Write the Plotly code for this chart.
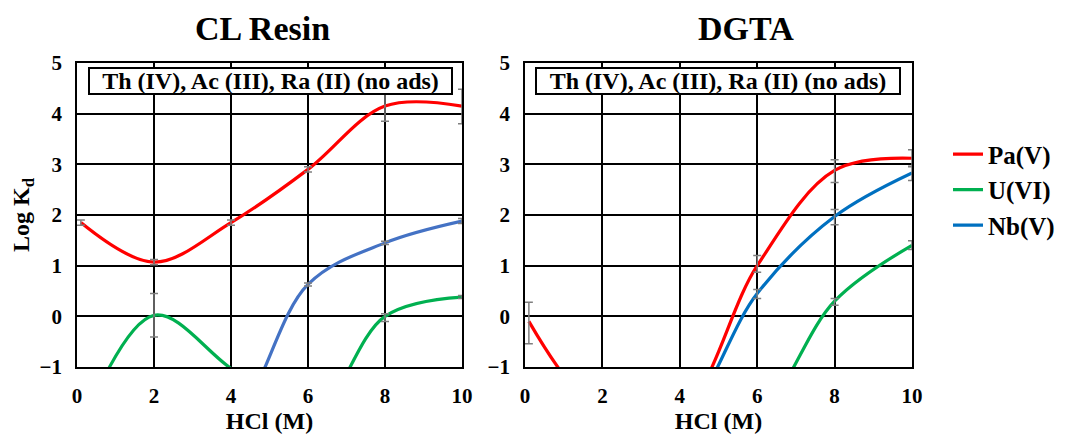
import plotly.graph_objects as go

# ---------------- data ----------------
hcl = [0.1, 2, 4, 6, 8, 10]

# CL Resin (log Kd); values below -1 are off-scale (not visible)
cl_pa = [1.85, 1.07, 1.85, 2.90, 4.15, 4.15]
cl_pa_up = [0.05, 0.05, 0.05, 0.05, 0.25, 0.33]
cl_pa_dn = [0.05, 0.05, 0.05, 0.05, 0.30, 0.35]
cl_u = [-2.2, 0.02, -1.03, -2.1, 0.0, 0.38]
cl_u_up = [0, 0.43, 0, 0, 0.05, 0.03]
cl_u_dn = [0, 0.43, 0, 0, 0.10, 0.03]
cl_nb = [-2.5, -2.5, -2.1, 0.63, 1.45, 1.88]
cl_nb_up = [0, 0, 0, 0.03, 0.03, 0.05]
cl_nb_dn = [0, 0, 0, 0.03, 0.03, 0.05]

# DGTA
dg_pa = [-0.10, -1.9, -1.9, 1.00, 2.88, 3.12]
dg_pa_up = [0.38, 0, 0, 0.20, 0.21, 0.17]
dg_pa_dn = [0.44, 0, 0, 0.13, 0.24, 0.16]
dg_u = [-2.5, -2.5, -2.5, -2.0, 0.30, 1.40]
dg_u_up = [0, 0, 0, 0, 0.05, 0.09]
dg_u_dn = [0, 0, 0, 0, 0.08, 0.08]
dg_nb = [-2.5, -2.5, -2.1, 0.45, 1.97, 2.83]
dg_nb_up = [0, 0, 0, 0.08, 0.14, 0.12]
dg_nb_dn = [0, 0, 0, 0.10, 0.16, 0.15]

x_ticks = [0, 2, 4, 6, 8, 10]
y_ticks = [-1, 0, 1, 2, 3, 4, 5]
panel_titles = ["CL Resin", "DGTA"]
box_text = "Th (IV), Ac (III), Ra (II) (no ads)"
series_names = ["Pa(V)", "U(VI)", "Nb(V)"]

RED = "#ff0000"
GREEN = "#00b050"
BLUE_CL = "#4472c4"
BLUE_DG = "#0070c0"
FONT = "Liberation Serif"

fig = go.Figure()

YMIN = -1


def add_series(xa, ya, y, up, dn, color, name, showleg):
    fig.add_trace(go.Scatter(
        x=hcl, y=y, mode="lines", line=dict(color=color, width=3.2, shape="spline", smoothing=1.0),
        name=name, legendgroup=name, showlegend=showleg, xaxis=xa, yaxis=ya, hoverinfo="skip"))
    # error bars for visible points only
    ex = [xv for xv, yv in zip(hcl, y) if yv >= YMIN]
    ey = [yv for yv in y if yv >= YMIN]
    eu = [u for u, yv in zip(up, y) if yv >= YMIN]
    ed = [d for d, yv in zip(dn, y) if yv >= YMIN]
    fig.add_trace(go.Scatter(
        x=ex, y=ey, mode="markers", marker=dict(size=0.1, color="rgba(0,0,0,0)"),
        error_y=dict(type="data", symmetric=False, array=eu, arrayminus=ed,
                     color="#7f7f7f", thickness=1.5, width=4),
        showlegend=False, xaxis=xa, yaxis=ya, hoverinfo="skip"))


add_series("x", "y", cl_pa, cl_pa_up, cl_pa_dn, RED, series_names[0], False)
add_series("x", "y", cl_u, cl_u_up, cl_u_dn, GREEN, series_names[1], False)
add_series("x", "y", cl_nb, cl_nb_up, cl_nb_dn, BLUE_CL, series_names[2], False)
add_series("x2", "y2", dg_pa, dg_pa_up, dg_pa_dn, RED, series_names[0], True)
add_series("x2", "y2", dg_u, dg_u_up, dg_u_dn, GREEN, series_names[1], True)
add_series("x2", "y2", dg_nb, dg_nb_up, dg_nb_dn, BLUE_DG, series_names[2], True)

# page offset (browser body margin) compensation
OFF = 8
W, H = 1082 - OFF, 436 - OFF
L1, R1 = 77 - OFF, 462 - OFF
L2, R2 = 525 - OFF, 912 - OFF
TOP, BOT = 62.7 - OFF, 366.7 - OFF
ML, MR, MT, MB = L1, W - R2, TOP, H - BOT
PW, PH = W - ML - MR, H - MT - MB


def px(x):  # page pixel x -> paper x
    return (x - OFF - ML) / PW


def py(y):  # page pixel y (from top) -> paper y
    return (H - MB - (y - OFF)) / PH


tickfont = dict(family=FONT, size=21, color="black", weight="bold")
axcommon = dict(showline=True, linecolor="black", linewidth=1.5, mirror=True,
                showgrid=True, gridcolor="black", gridwidth=1.5, zeroline=False,
                tickfont=tickfont, ticks="", ticklabelstandoff=9, automargin=False)

xa = dict(range=[0, 10], tickvals=x_ticks, **axcommon)
ya = dict(range=[-1, 5], tickvals=y_ticks, **axcommon)
titlefont = dict(family=FONT, size=24, color="black", weight="bold")

fig.update_layout(
    width=W, height=H,
    margin=dict(l=ML, r=MR, t=MT, b=MB, autoexpand=False),
    paper_bgcolor="white", plot_bgcolor="white",
    xaxis=dict(domain=[0, (R1 - L1) / PW], anchor="y",
               title=dict(text="HCl (M)", font=titlefont, standoff=5), **xa),
    yaxis=dict(domain=[0, 1], anchor="x",
               title=dict(text="Log K<sub>d</sub>", font=titlefont, standoff=3), **ya),
    xaxis2=dict(domain=[(L2 - L1) / PW, 1], anchor="y2",
                title=dict(text="HCl (M)", font=titlefont, standoff=5), **xa),
    yaxis2=dict(domain=[0, 1], anchor="x2", **ya),
    legend=dict(x=px(948), y=py(131), xanchor="left", yanchor="top",
                font=dict(family=FONT, size=25, color="black", weight="bold"),
                tracegroupgap=0, bgcolor="rgba(0,0,0,0)"),
    showlegend=True,
)

# panel titles
for t, cx in zip(panel_titles, [262, 746]):
    fig.add_annotation(text=t, x=px(cx), y=py(28),
                       xref="paper", yref="paper", showarrow=False,
                       font=dict(family=FONT, size=34, color="black", weight="bold"),
                       xanchor="center", yanchor="middle")

# "no ads" boxes
for (bl, br) in [(88, 453), (535, 901)]:
    fig.add_annotation(text=box_text, x=px((bl + br) / 2), y=py(81),
                       xref="paper", yref="paper", showarrow=False,
                       font=dict(family=FONT, size=24, color="black", weight="bold"),
                       width=br - bl - 4, height=24, bgcolor="white",
                       bordercolor="black", borderwidth=2, borderpad=0,
                       xanchor="center", yanchor="middle")

fig.write_html("out.html")
